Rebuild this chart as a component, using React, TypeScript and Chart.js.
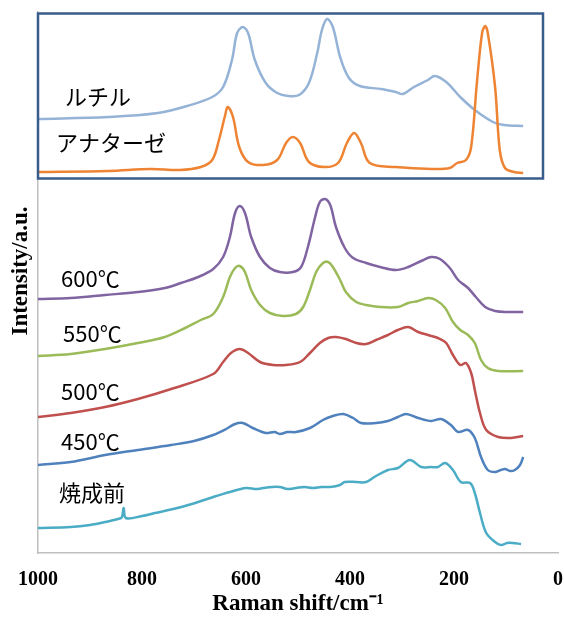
import React, { useEffect, useRef } from "react";
import { Chart, registerables } from "chart.js";

Chart.register(...registerables);

// Raman shift (cm-1) and intensity (a.u., offset per trace)
const rutileX = [1000, 865, 769, 713, 665, 644, 627, 617, 606, 596, 583, 562, 540, 519, 498, 479, 463, 454, 444, 433, 419, 402, 381, 340, 312, 298, 277, 250, 237, 215, 188, 160, 125, 104, 67];
const rutileY = [434, 436, 440, 447, 456, 466, 493, 520, 526, 520, 493, 470, 460, 457, 458, 470, 500, 523, 534, 526, 496, 475, 467, 464, 461, 459, 466, 473, 477, 471, 456, 443, 431, 428, 427];

const anataseX = [1000, 865, 783, 727, 687, 665, 652, 640, 635, 625, 613, 596, 567, 540, 523, 510, 496, 479, 450, 423, 406, 392, 379, 362, 312, 242, 208, 194, 177, 167, 156, 146, 140, 135, 121, 112, 102, 85, 67];
const anataseY = [381, 382, 384, 383, 386, 393, 413, 438, 446, 436, 406, 391, 388, 393, 410, 416, 410, 391, 386, 390, 410, 420, 410, 390, 386, 384, 385, 390, 393, 406, 470, 520, 527, 520, 466, 403, 385, 381, 380];

const t600X = [1000, 937, 871, 808, 756, 725, 692, 663, 644, 631, 621, 612, 602, 590, 573, 554, 535, 510, 494, 481, 467, 458, 448, 438, 427, 410, 394, 369, 342, 312, 288, 263, 244, 227, 208, 192, 173, 158, 140, 121, 96, 67];
const t600Y = [254, 255, 258, 261, 265, 270, 276, 284, 296, 316, 340, 347, 340, 316, 296, 285, 281, 281, 286, 306, 336, 351, 354, 348, 326, 305, 295, 290, 286, 283, 286, 292, 296, 294, 285, 273, 265, 256, 246, 242, 241, 241];

const t550X = [1000, 937, 871, 808, 756, 717, 687, 663, 644, 631, 621, 612, 602, 590, 573, 554, 529, 504, 490, 477, 465, 452, 442, 433, 419, 408, 388, 369, 342, 308, 288, 269, 250, 235, 217, 202, 188, 173, 160, 148, 135, 115, 67];
const t550Y = [197, 199, 204, 210, 216, 225, 233, 239, 256, 276, 285, 287, 281, 263, 248, 240, 237, 239, 246, 263, 281, 290, 291, 286, 273, 261, 251, 248, 246, 246, 250, 252, 255, 253, 245, 231, 223, 218, 210, 193, 185, 182, 182];

const t500X = [1000, 937, 871, 808, 744, 663, 644, 629, 612, 596, 573, 548, 523, 496, 477, 458, 442, 427, 408, 388, 369, 350, 327, 308, 288, 269, 250, 231, 215, 202, 188, 177, 167, 160, 150, 138, 115, 90, 67];
const t500Y = [136, 140, 146, 154, 164, 179, 191, 200, 204, 200, 191, 188, 188, 191, 200, 210, 215, 216, 214, 210, 209, 213, 218, 223, 226, 221, 218, 215, 210, 198, 188, 190, 180, 163, 140, 123, 116, 115, 117];

const t450X = [1000, 937, 871, 808, 744, 700, 663, 638, 621, 606, 587, 562, 545, 535, 520, 504, 477, 452, 433, 413, 394, 379, 350, 327, 308, 292, 269, 244, 225, 206, 192, 173, 160, 148, 135, 121, 110, 102, 92, 83, 73, 67];
const t450Y = [88, 91, 98, 103, 108, 112, 118, 124, 129, 130, 125, 120, 121, 119, 121, 121, 125, 133, 137, 139, 135, 130, 130, 132, 136, 139, 135, 132, 134, 128, 121, 123, 115, 96, 83, 81, 83, 84, 82, 83, 88, 96];

const rawX = [1000, 937, 900, 871, 840, 838, 835, 831, 800, 775, 740, 711, 663, 631, 600, 580, 567, 550, 535, 520, 504, 488, 471, 455, 438, 419, 410, 388, 369, 350, 327, 308, 285, 263, 244, 231, 217, 202, 187, 169, 160, 150, 138, 121, 110, 98, 87, 71];
const rawY = [25, 26, 28, 31, 35, 37, 45, 35, 37, 40, 44, 48, 56, 61, 65, 64, 65, 66, 66, 64, 65, 66, 65, 66, 66, 68, 71, 71, 71, 77, 83, 85, 93, 86, 86, 86, 90, 83, 71, 70, 60, 40, 20, 11, 8, 10, 10, 9];

const seriesNames = ["ルチル", "アナターゼ", "600℃", "550℃", "500℃", "450℃", "焼成前"];
const xTicks = [0, 200, 400, 600, 800, 1000];
const xTitle = "Raman shift/cm⁻¹";
const yTitle = "Intensity/a.u.";

const toPts = (xs: number[], ys: number[]) => xs.map((x, i) => ({ x, y: ys[i] }));

export default function App() {
  const ref = useRef<HTMLCanvasElement | null>(null);

  useEffect(() => {
    if (!ref.current) return;

    // label anchor positions (pixels) for each trace name, in seriesNames order
    const labelPos = [
      [65, 97], [56, 143], [61, 279], [63, 334], [61, 392], [61, 442], [59, 493],
    ];

    const decor = {
      id: "decor",
      afterDatasetsDraw(chart: any) {
        const ctx = chart.ctx;
        const area = chart.chartArea;
        ctx.save();
        // inset frame
        ctx.strokeStyle = "#385D8A";
        ctx.lineWidth = 2.5;
        ctx.strokeRect(area.left, area.top + 1.5, 505, 165);
        // trace names
        ctx.fillStyle = "#000";
        ctx.textBaseline = "middle";
        ctx.textAlign = "left";
        ctx.font = '22px "Noto Sans CJK JP"';
        seriesNames.forEach((s, i) => {
          ctx.fillText(s, labelPos[i][0], labelPos[i][1]);
        });
        // y title
        ctx.translate(21, 271);
        ctx.rotate(-Math.PI / 2);
        ctx.textAlign = "center";
        ctx.font = 'bold 23px "Liberation Serif"';
        ctx.fillText(yTitle, 0, 0);
        ctx.restore();
      },
    };

    const mk = (label: string, xs: number[], ys: number[], color: string) => ({
      label,
      data: toPts(xs, ys),
      borderColor: color,
      borderWidth: 2.5,
      pointRadius: 0,
      fill: false,
      tension: 0.35,
    });

    const chart = new Chart(ref.current, {
      type: "line",
      data: {
        datasets: [
          mk(seriesNames[1], anataseX, anataseY, "#EE8433"),
          mk(seriesNames[0], rutileX, rutileY, "#95B3D7"),
          mk(seriesNames[2], t600X, t600Y, "#8064A2"),
          mk(seriesNames[3], t550X, t550Y, "#9BBB59"),
          mk(seriesNames[4], t500X, t500Y, "#C0504D"),
          mk(seriesNames[5], t450X, t450Y, "#4F81BD"),
          mk(seriesNames[6], rawX, rawY, "#4BACC6"),
        ],
      },
      options: {
        animation: false,
        responsive: true,
        maintainAspectRatio: false,
        layout: { padding: { top: 12, right: 6, left: 0, bottom: 0 } },
        plugins: { legend: { display: false }, tooltip: { enabled: false } },
        scales: {
          x: {
            type: "linear",
            min: 0,
            max: 1000,
            reverse: true,
            afterBuildTicks: (s: any) => {
              s.ticks = xTicks.map((v) => ({ value: v }));
            },
            afterFit: (s: any) => {
              s.height = 65;
              s.paddingLeft = 0;
              s.paddingRight = 0;
            },
            ticks: {
              color: "#000",
              padding: 15,
              maxRotation: 0,
              callback: (v: any) => String(v),
              font: { family: "Liberation Serif", size: 20, weight: "bold" },
            },
            grid: { display: false, drawTicks: false },
            border: { display: true, color: "#BFBFBF", width: 1.5 },
            title: {
              display: true,
              text: xTitle,
              color: "#000",
              font: { family: "Liberation Serif", size: 23, weight: "bold" },
              padding: { top: 0, bottom: 0 },
            },
          },
          y: {
            min: 0,
            max: 541,
            afterFit: (s: any) => {
              s.width = 38;
            },
            ticks: { display: false },
            grid: { display: false, drawTicks: false },
            border: { display: true, color: "#BFBFBF", width: 1.5 },
          },
        },
      },
      plugins: [decor],
    });

    return () => chart.destroy();
  }, []);

  return (
    <div style={{ position: "absolute", left: 0, top: 0, width: 564, height: 618, background: "#fff" }}>
      <canvas ref={ref} />
    </div>
  );
}
